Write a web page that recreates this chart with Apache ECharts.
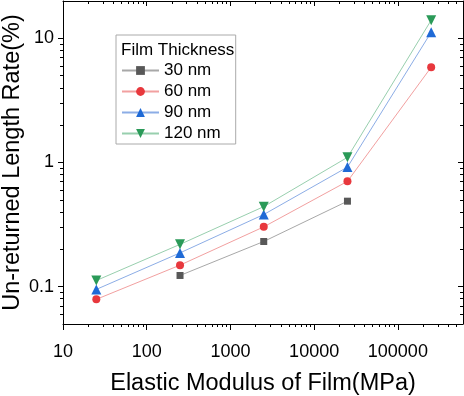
<!DOCTYPE html>
<html>
<head>
<meta charset="utf-8">
<script src="https://cdn.jsdelivr.net/npm/echarts@6/dist/echarts.min.js"></script>
<style>
  html, body { margin: 0; padding: 0; background: #fff; }
  #chart { width: 464px; height: 396px; }
</style>
</head>
<body>
<div id="chart"></div>
<script>
const modulus = [25, 250, 2500, 25000, 250000]
const rate30 = [null, 0.123, 0.231, 0.488, null]
const rate60 = [0.079, 0.149, 0.303, 0.705, 5.85]
const rate90 = [0.095, 0.187, 0.381, 0.918, 11.2]
const rate120 = [0.112, 0.219, 0.441, 1.10, 14.0]
const names = ['30 nm', '60 nm', '90 nm', '120 nm']
const xTicks = [10, 100, 1000, 10000, 100000]
const yTicks = [0.1, 1, 10]

const xMin = 10, xMax = 600000
const yMin = 0.05, yMax = 20
const font = '"Liberation Sans", Arial, sans-serif'

function pairs(ys) {
    return modulus.map((x, i) => [x, ys[i]]).filter(p => p[1] != null)
}

// 2..9 between decades, like origin's log minor ticks
function minorTicks(firstDecade, lastDecade, min, max) {
    const out = []
    for (let d = firstDecade; d <= lastDecade; d *= 10) {
        for (let k = 2; k <= 9; k++) {
            const v = +(k * d).toPrecision(3)
            if (v > min && v < max) out.push(v)
        }
    }
    return out
}
const xMinor = minorTicks(10, 100000, xMin, xMax)
const yMinor = minorTicks(0.01, 10, yMin, yMax)

// one log axis; several are stacked on each side (major / minor ticks)
function logAxis(position, min, max, ticks, tickLen, inside, extra) {
    return Object.assign({
        type: 'log',
        logBase: 10,
        position: position,
        min: min,
        max: max,
        axisLine: { show: false, lineStyle: { color: '#000', width: 1 } },
        axisTick: { show: true, inside: inside, length: tickLen, customValues: ticks, lineStyle: { color: '#000', width: 1 } },
        axisLabel: { show: false },
        splitLine: { show: false }
    }, extra)
}

const tickLabel = {
    show: true,
    fontSize: 18,
    color: '#000',
    fontFamily: font,
    formatter: v => String(v)
}

const option = {
    animation: false,
    backgroundColor: '#fff',
    textStyle: { fontFamily: font },
    grid: { left: 63, right: 1, top: 1, bottom: 72, containLabel: false, outerBoundsMode: 'none' },
    title: {
        text: 'Film Thickness',
        left: 121,
        top: 42,
        padding: 0,
        z: 10,
        textStyle: { fontFamily: font, fontSize: 17, fontWeight: 'normal', color: '#000' }
    },
    legend: {
        orient: 'vertical',
        left: 116,
        top: 35,
        padding: [27, 15, 2, 5],
        itemWidth: 37,
        itemHeight: 11,
        itemGap: 4,
        borderColor: '#aaa',
        borderWidth: 1,
        backgroundColor: '#fff',
        textStyle: { fontFamily: font, fontSize: 17, lineHeight: 17, color: '#000' },
        data: names
    },
    xAxis: [
        logAxis('bottom', xMin, xMax, xTicks, 6, false, {
            axisLine: { show: true, lineStyle: { color: '#000', width: 1 } },
            axisLabel: Object.assign({ margin: 19, customValues: xTicks }, tickLabel),
            name: 'Elastic Modulus of Film(MPa)',
            nameLocation: 'middle',
            nameGap: 48,
            nameMoveOverlap: false,
            nameTextStyle: { fontFamily: font, fontSize: 23.5, color: '#000' }
        }),
        logAxis('bottom', xMin, xMax, xMinor, 3, false),
        logAxis('top', xMin, xMax, xTicks, 5, true, {
            axisLine: { show: true, lineStyle: { color: '#000', width: 1 } }
        }),
        logAxis('top', xMin, xMax, xMinor, 3, true)
    ],
    yAxis: [
        logAxis('left', yMin, yMax, yTicks, 5, false, {
            axisLine: { show: true, lineStyle: { color: '#000', width: 1 } },
            axisLabel: Object.assign({ margin: 9, customValues: yTicks }, tickLabel),
            name: 'Un-returned Length Rate(%)',
            nameLocation: 'middle',
            nameGap: 38,
            nameMoveOverlap: false,
            nameTextStyle: { fontFamily: font, fontSize: 23.5, color: '#000' }
        }),
        logAxis('left', yMin, yMax, yMinor, 3, false),
        logAxis('right', yMin, yMax, yTicks, 5, true, {
            axisLine: { show: true, lineStyle: { color: '#000', width: 1 } }
        }),
        logAxis('right', yMin, yMax, yMinor, 3, true)
    ],
    series: [
        { name: names[0], type: 'line', data: pairs(rate30), symbol: 'rect', symbolSize: 7,
          itemStyle: { color: '#585858' }, lineStyle: { color: '#a8a8a8', width: 1 } },
        { name: names[1], type: 'line', data: pairs(rate60), symbol: 'circle', symbolSize: 8,
          itemStyle: { color: '#e8383d' }, lineStyle: { color: '#f2a0a0', width: 1 } },
        { name: names[2], type: 'line', data: pairs(rate90), symbol: 'triangle', symbolSize: 10,
          itemStyle: { color: '#1f6ad6' }, lineStyle: { color: '#8cade6', width: 1 } },
        { name: names[3], type: 'line', data: pairs(rate120), symbol: 'triangle', symbolRotate: 180, symbolSize: 10,
          itemStyle: { color: '#2a9a58' }, lineStyle: { color: '#98cfae', width: 1 } }
    ]
}

const chart = echarts.init(document.getElementById('chart'))
chart.setOption(option)
</script>
</body>
</html>
